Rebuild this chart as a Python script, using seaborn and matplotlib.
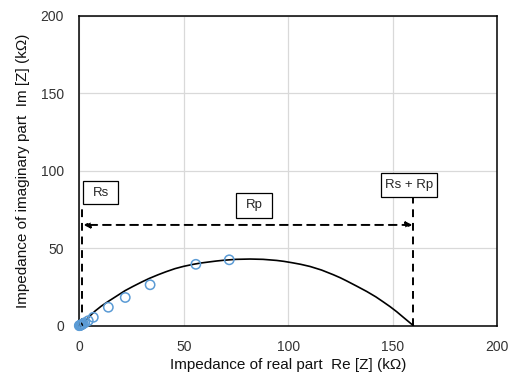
import matplotlib
matplotlib.use("Agg")
import matplotlib.pyplot as plt
from matplotlib.patches import Rectangle
import seaborn as sns
import pandas as pd

# measured points
re_z = [0.0, 0.2, 0.4, 0.7, 1.0, 1.4, 1.9, 2.6, 4.3, 6.7, 13.9, 22.0, 33.9, 55.8, 71.8]
im_z = [0.0, 0.1, 0.2, 0.4, 0.6, 0.9, 1.3, 1.9, 3.2, 5.4, 11.9, 18.2, 26.4, 39.6, 42.5]

# fitted arc
fit_re = [1.5, 3.0, 5.0, 7.5, 10.5, 13.9, 17.5, 21.9, 25.5, 29.9, 33.5, 37.8, 41.5,
          45.8, 50.0, 54.6, 58.0, 62.0, 65.5, 69.0, 75.0, 81.8, 88.0, 94.5, 98.0, 102.0,
          106.0, 110.5, 116.0, 121.6, 125.0, 128.0, 133.0, 137.6, 142.0, 145.5, 148.8,
          152.0, 155.0, 157.5, 160.0]
fit_im = [0.0, 3.0, 6.2, 9.4, 12.6, 15.7, 18.8, 22.6, 25.2, 28.2, 30.5, 32.9, 34.8,
          36.8, 38.3, 39.6, 40.4, 41.1, 41.7, 42.2, 42.8, 43.0, 42.8, 42.1, 41.5, 40.6,
          39.6, 38.2, 35.9, 32.9, 30.9, 28.9, 25.4, 22.1, 18.6, 15.4, 12.3, 9.0, 5.6,
          2.8, 0.0]

rs = 1.5
rs_rp = 160.0
xticks = [0, 50, 100, 150, 200]
yticks = [0, 50, 100, 150, 200]

sns.set_theme(style="white")
plt.rcParams["font.family"] = ["Liberation Sans", "DejaVu Sans"]

fig = plt.figure(figsize=(5.15, 3.76), dpi=100)
ax = fig.add_axes([0.154, 0.1338, 0.811, 0.8245])

pts = pd.DataFrame({"re": re_z, "im": im_z})
fit = pd.DataFrame({"re": fit_re, "im": fit_im})

ax.grid(True, color="#d9d9d9", linewidth=0.9)
ax.set_axisbelow(True)

sns.lineplot(data=fit, x="re", y="im", sort=False, color="black", linewidth=1.2, ax=ax, zorder=3)
sns.scatterplot(data=pts, x="re", y="im", marker="o", s=45, facecolor="none",
                edgecolor="#5b9bd5", linewidth=1.1, ax=ax, zorder=4, clip_on=False)

# dashed verticals
ax.plot([rs, rs], [0, 78.3], ls=(0, (4, 3)), color="black", lw=1.4, zorder=2)
ax.plot([rs_rp, rs_rp], [0, 82.8], ls=(0, (4, 3)), color="black", lw=1.4, zorder=2)

# double arrow
ax.annotate("", xy=(rs + 0.5, 65), xytext=(rs_rp - 0.5, 65),
            arrowprops=dict(arrowstyle="<|-|>", linestyle=(0, (4, 3)), color="black",
                            lw=1.4, mutation_scale=9, shrinkA=0, shrinkB=0))

def label_box(x0, x1, y0, y1, txt):
    ax.add_patch(Rectangle((x0, y0), x1 - x0, y1 - y0, facecolor="white",
                           edgecolor="black", lw=0.9, zorder=5))
    ax.text((x0 + x1) / 2, (y0 + y1) / 2, txt, ha="center", va="center",
            fontsize=9.5, zorder=6)

label_box(1.6, 18.7, 78.3, 93.5, "Rs")
label_box(74.9, 92.4, 69.7, 85.4, "Rp")
label_box(144.3, 171.2, 82.8, 98.3, "Rs + Rp")

ax.set_xlim(0, 200)
ax.set_ylim(0, 200)
ax.set_xticks(xticks)
ax.set_yticks(yticks)
ax.tick_params(axis="x", length=0, labelsize=10, pad=10, colors="#333333")
ax.tick_params(axis="y", length=0, labelsize=10, pad=11, colors="#333333")
for s in ax.spines.values():
    s.set_color("black")
    s.set_linewidth(1.1)
ax.set_xlabel("Impedance of real part  Re [Z] (kΩ)", fontsize=11, labelpad=3, color="#111111")
ax.set_ylabel("Impedance of imaginary part  Im [Z] (kΩ)", fontsize=11, labelpad=8, color="#111111")

fig.savefig("out.png", dpi=100)
